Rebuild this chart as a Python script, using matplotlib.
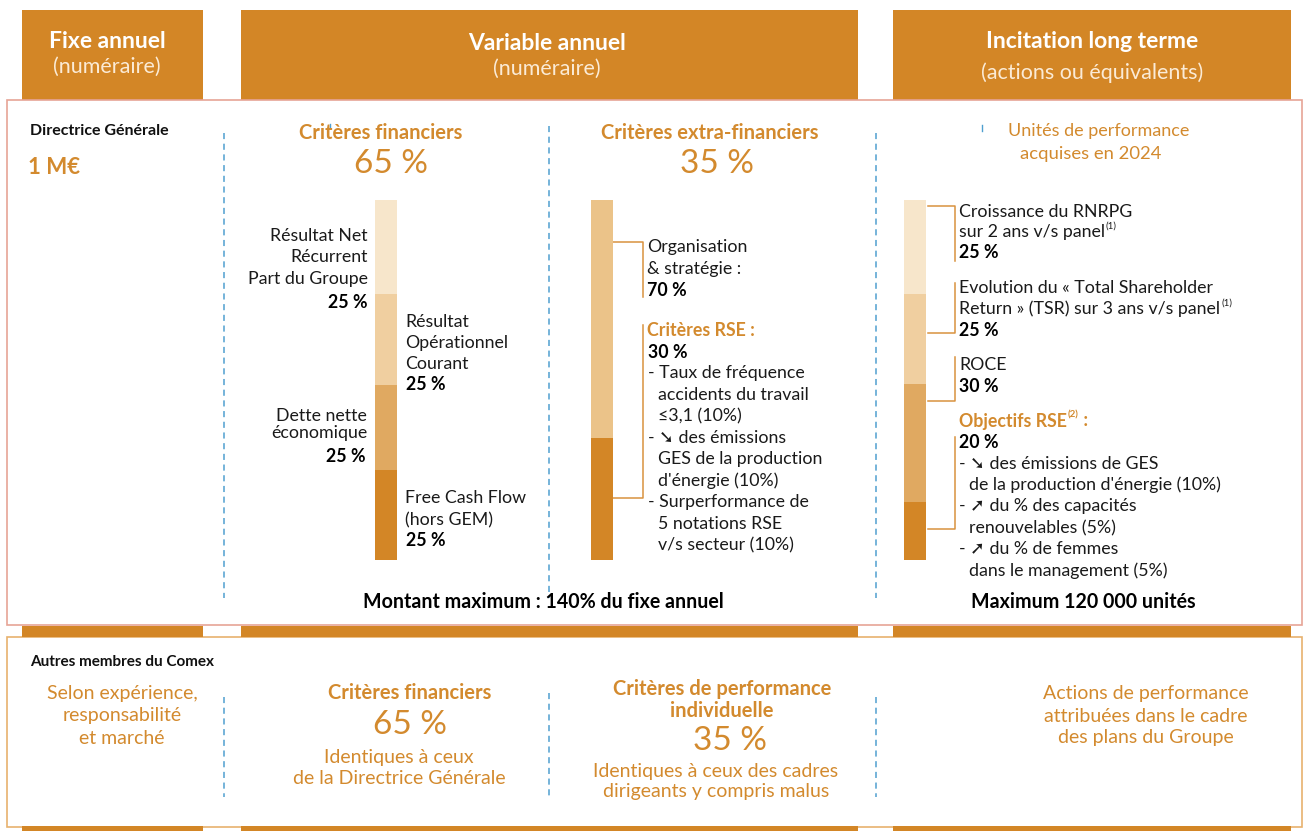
import matplotlib
matplotlib.use('Agg')
import matplotlib.pyplot as plt

W, H = 1303, 831
ORANGE = '#D38626'
TXT_OR = '#D38A2E'
BLUE = '#4f9fd0'
FONT = ['Lato', 'DejaVu Sans']
plt.rcParams['font.family'] = FONT

# ---------------- data ----------------
headers = ['Fixe annuel', 'Variable annuel', 'Incitation long terme']
header_subs = ['(numéraire)', '(numéraire)', '(actions ou équivalents)']

fin_values = [26, 25.5, 23.5, 25]          # % of bar, top to bottom
fin_colors = ['#F7E6CB', '#F0CFA0', '#E0A961', '#D38626']
extra_values = [66, 34]
extra_colors = ['#EBC389', '#D38626']
lti_values = [26, 25, 33, 16]
lti_colors = ['#F7E6CB', '#F0CFA0', '#E0A961', '#D38626']

fin_pct = ['25 %', '25 %', '25 %', '25 %']

# ---------------- figure ----------------
fig = plt.figure(figsize=(W / 100, H / 100), dpi=100)
ax = fig.add_axes([0, 0, 1, 1])
ax.set_xlim(0, W)
ax.set_ylim(H, 0)
ax.axis('off')

cols = [(22, 203), (241, 858), (893, 1291)]


def rect(x0, y0, x1, y1, fc='none', ec='none', lw=1, z=1):
    ax.add_patch(plt.Rectangle((x0, y0), x1 - x0, y1 - y0, facecolor=fc,
                               edgecolor=ec, linewidth=lw, zorder=z))


def txt(x, y, s, size=13, color='#1a1a1a', weight='normal', ha='left', va='center', **kw):
    return ax.text(x, y, s, fontsize=size, color=color, fontweight=weight,
                   ha=ha, va=va, zorder=5, **kw)


# header boxes
for (x0, x1) in cols:
    rect(x0, 10, x1, 100, fc=ORANGE)
# top panel border
rect(7, 100, 1302, 625, ec='#E6A496', lw=1.2, z=2)
# middle band
for (x0, x1) in cols:
    rect(x0, 626, x1, 637, fc=ORANGE, z=3)
# lower panel border
rect(7, 637, 1302, 827, ec='#E8B26E', lw=1.2, z=2)
for (x0, x1) in cols:
    rect(x0, 826, x1, 831, fc=ORANGE, z=3)

# header text
hx = [107, 547, 1092]
hy1 = [42, 44, 42]
hy2 = [67, 69, 73]
for i in range(3):
    txt(hx[i], hy1[i], headers[i], 16.5, 'white', 'bold', ha='center')
    txt(hx[i], hy2[i], header_subs[i], 15.5, '#FBEBD6', 'normal', ha='center')

# dashed separators
for x, y0, y1 in [(224, 133, 598), (549, 126, 598), (876, 133, 598),
                  (224, 697, 797), (549, 693, 797), (876, 697, 797)]:
    ax.plot([x, x], [y0, y1], color=BLUE, lw=1.1, ls=(0, (4, 3)), zorder=2)
ax.plot([982, 982], [125, 131], color=BLUE, lw=1, zorder=2)
ax.plot([330, 330], [124, 128], color=BLUE, lw=1, zorder=2)

# ---------------- bars ----------------
bax = fig.add_axes([0, 1 - 560 / H, 1, 360 / H])
bax.set_xlim(0, W)
bax.set_ylim(0, 100)
bax.axis('off')
bax.patch.set_alpha(0)


def stack(xc, vals, colors, width=22):
    top = 100
    for v, c in zip(vals, colors):
        bax.bar(xc, v, bottom=top - v, width=width, color=c, linewidth=0)
        top -= v


stack(386, fin_values, fin_colors)
stack(602, extra_values, extra_colors)
stack(915, lti_values, lti_colors)

fig.canvas.draw()
renderer = fig.canvas.get_renderer()


def right_edge(t):
    bb = t.get_window_extent(renderer=renderer)
    return ax.transData.inverted().transform((bb.x1, bb.y0))[0]


def pieces(x, y, parts, size, color):
    """parts: list of (text, weight, family) drawn side by side."""
    for s, w, fam in parts:
        kw = {'family': fam} if fam else {}
        t = txt(x, y, s, size, color, w, **kw)
        x = right_edge(t)


# ---------------- top panel text ----------------
txt(30, 131, 'Directrice Générale', 11.5, '#111111', 'bold')
txt(28, 168, '1 M€', 16, TXT_OR, 'bold')

txt(381, 133, 'Critères financiers', 14.5, TXT_OR, 'bold', ha='center')
txt(391, 164, '65 %', 24, TXT_OR, 'normal', ha='center')
txt(710, 133, 'Critères extra-financiers', 14.5, TXT_OR, 'bold', ha='center')
txt(717, 164, '35 %', 24, TXT_OR, 'normal', ha='center')
txt(1099, 131, 'Unités de performance', 13, TXT_OR, ha='center')
txt(1091, 154, 'acquises en 2024', 13.3, TXT_OR, ha='center')

BODY = 12.8
K = '#1a1a1a'
ARW = ['DejaVu Sans']
# financial bar labels
for s, y in [('Résultat Net', 236), ('Récurrent', 257), ('Part du Groupe', 279)]:
    txt(368, y, s, BODY, K, ha='right')
txt(367, 302, fin_pct[0], BODY, '#000', 'bold', ha='right')
for s, y in [('Résultat', 322), ('Opérationnel', 343), ('Courant', 364)]:
    txt(405, y, s, BODY, K)
txt(406, 385, fin_pct[1], BODY, '#000', 'bold')
for s, y in [('Dette nette', 416), ('économique', 433)]:
    txt(367, y, s, BODY, K, ha='right')
txt(366, 456, fin_pct[2], BODY, '#000', 'bold', ha='right')
for s, y in [('Free Cash Flow', 498), ('(hors GEM)', 520)]:
    txt(405, y, s, BODY, K)
txt(406, 541, fin_pct[3], BODY, '#000', 'bold')

# extra-financial
BR = '#D9923E'
ax.plot([613, 643, 643], [242, 242, 297], color=BR, lw=1.1, zorder=3)
ax.plot([643, 643, 613], [325, 498, 498], color=BR, lw=1.1, zorder=3)
for s, y in [('Organisation', 247), ('& stratégie :', 269)]:
    txt(647, y, s, BODY, K)
txt(647, 291, '70 %', BODY, '#000', 'bold')
txt(647, 330, 'Critères RSE :', BODY, TXT_OR, 'bold')
txt(648, 352, '30 %', BODY, '#000', 'bold')
for s, x, y in [('- Taux de fréquence', 648, 373), ('accidents du travail', 658, 395),
                ('≤3,1 (10%)', 658, 416),
                ('GES de la production', 658, 459), ("d'énergie (10%)", 658, 481),
                ('- Surperformance de', 648, 502), ('5 notations RSE', 658, 524),
                ('v/s secteur (10%)', 658, 545)]:
    txt(x, y, s, BODY, K)
pieces(648, 438, [('- ', 'normal', None), ('➘', 'bold', ARW), (' des émissions', 'normal', None)], BODY, K)
txt(543, 602, 'Montant maximum : 140% du fixe annuel', 14.1, '#000', 'bold', ha='center')

# LTI brackets
for (ya, yb, top) in [(206, 261, True), (283, 333, False), (357, 401, False), (437, 529, False)]:
    if top:
        ax.plot([928, 955, 955], [ya, ya, yb], color=BR, lw=1.1, zorder=3)
    else:
        ax.plot([955, 955, 928], [ya, yb, yb], color=BR, lw=1.1, zorder=3)


def with_sup(x, y, main, sup, size, color, weight='normal', tail=''):
    t = txt(x, y, main, size, color, weight)
    xe = right_edge(t)
    s = txt(xe + 1, y - 6, sup, size * 0.55, color, weight)
    if tail:
        txt(right_edge(s), y, tail, size, color, weight)


txt(959, 212, 'Croissance du RNRPG', BODY, K)
with_sup(959, 232, 'sur 2 ans v/s panel', '(1)', BODY, K)
txt(959, 253, '25 %', BODY, '#000', 'bold')
txt(959, 288, 'Evolution du « Total Shareholder', BODY, K)
with_sup(959, 309, 'Return » (TSR) sur 3 ans v/s panel', '(1)', BODY, K)
txt(959, 330, '25 %', BODY, '#000', 'bold')
txt(959, 365, 'ROCE', BODY, K)
txt(959, 386, '30 %', BODY, '#000', 'bold')
with_sup(959, 421, 'Objectifs RSE', '(2)', BODY, TXT_OR, 'bold', tail=' :')
txt(959, 442, '20 %', BODY, '#000', 'bold')
pieces(959, 464, [('- ', 'normal', None), ('➘', 'bold', ARW), (' des émissions de GES', 'normal', None)], BODY, K)
pieces(959, 506, [('- ', 'normal', None), ('➚', 'bold', ARW), (' du % des capacités', 'normal', None)], BODY, K)
pieces(959, 549, [('- ', 'normal', None), ('➚', 'bold', ARW), (' du % de femmes', 'normal', None)], BODY, K)
for s, x, y in [("de la production d'énergie (10%)", 969, 485),
                ('renouvelables (5%)', 969, 528),
                ('dans le management (5%)', 969, 571)]:
    txt(x, y, s, BODY, K)
txt(1083, 602, 'Maximum 120 000 unités', 14.1, '#000', 'bold', ha='center')

# ---------------- lower panel ----------------
txt(30, 662, 'Autres membres du Comex', 11, '#111111', 'bold')
for s, y in [('Selon expérience,', 694), ('responsabilité', 716), ('et marché', 738)]:
    txt(122, y, s, 14, TXT_OR, ha='center')
txt(410, 693, 'Critères financiers', 14.5, TXT_OR, 'bold', ha='center')
txt(410, 725, '65 %', 24, TXT_OR, 'normal', ha='center')
for s, y in [('Identiques à ceux', 758), ('de la Directrice Générale', 779)]:
    txt(399, y, s, 14, TXT_OR, ha='center')
txt(722, 689, 'Critères de performance', 14.5, TXT_OR, 'bold', ha='center')
txt(722, 711, 'individuelle', 14.5, TXT_OR, 'bold', ha='center')
txt(730, 741, '35 %', 24, TXT_OR, 'normal', ha='center')
for s, y in [('Identiques à ceux des cadres', 771), ('dirigeants y compris malus', 792)]:
    txt(716, y, s, 14, TXT_OR, ha='center')
for s, y in [('Actions de performance', 694), ('attribuées dans le cadre', 716),
             ('des plans du Groupe', 738)]:
    txt(1146, y, s, 14, TXT_OR, ha='center')

fig.savefig('out.png', dpi=100)
